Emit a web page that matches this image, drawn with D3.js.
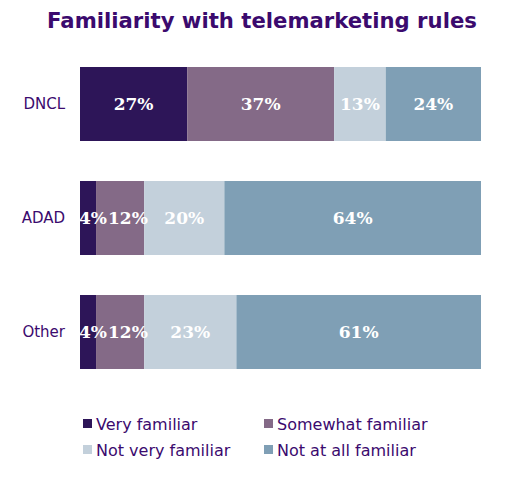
<!DOCTYPE html>
<html><head><meta charset="utf-8">
<script src="https://cdn.jsdelivr.net/npm/d3@7/dist/d3.min.js"></script>
<style>body{margin:0;background:#fff}svg{display:block}</style>
</head><body><div id="chart"></div>
<script>
const categories = ["DNCL", "ADAD", "Other"];
const seriesNames = ["Very familiar", "Somewhat familiar", "Not very familiar", "Not at all familiar"];
const veryFamiliar = [27, 4, 4];
const somewhatFamiliar = [37, 12, 12];
const notVeryFamiliar = [13, 20, 23];
const notAtAllFamiliar = [24, 64, 61];
const colors = ["#2d1558", "#846a87", "#c3d0db", "#7f9fb5"];

const W = 511, H = 480;
const svg = d3.select("#chart").append("svg").attr("width", W).attr("height", H);
const purple = "#3b0a6e";

svg.append("text").attr("x", 262).attr("y", 28).attr("text-anchor", "middle")
  .attr("font-family", "DejaVu Sans").attr("font-weight", "bold").attr("font-size", 21.2)
  .attr("fill", purple).text("Familiarity with telemarketing rules");

const seriesArr = [veryFamiliar, somewhatFamiliar, notVeryFamiliar, notAtAllFamiliar];
const rows = categories.map((c, i) => {
  const o = {cat: c};
  seriesNames.forEach((s, j) => o[s] = seriesArr[j][i]);
  return o;
});
const stack = d3.stack().keys(seriesNames).offset(d3.stackOffsetExpand);
const stacked = stack(rows);

const x = d3.scaleLinear().domain([0, 1]).range([80, 481]);
const y = d3.scaleBand().domain(categories).range([47, 389]).paddingInner(40 / 114).paddingOuter(20 / 114);

const yAxis = svg.append("g").attr("transform", "translate(80,0)")
  .call(d3.axisLeft(y).tickSize(0).tickPadding(15));
yAxis.select(".domain").remove();
yAxis.selectAll("text").attr("font-family", "DejaVu Sans").attr("font-size", 15).attr("fill", purple);

stacked.forEach((layer, j) => {
  svg.append("g").selectAll("rect").data(layer).join("rect")
    .attr("x", d => x(d[0])).attr("width", d => x(d[1]) - x(d[0]))
    .attr("y", d => y(d.data.cat)).attr("height", y.bandwidth())
    .attr("fill", colors[j]);
});

// labels, laid out left to right per row to avoid overlap
const lg = svg.append("g");
categories.forEach((c, i) => {
  let prevRight = x(0) - 2;
  stacked.forEach((layer, j) => {
    const d = layer[i];
    const val = seriesArr[j][i];
    const t = lg.append("text").attr("y", y(c) + y.bandwidth() / 2).attr("dy", "0.36em")
      .attr("text-anchor", "middle").attr("font-family", "DejaVu Serif").attr("font-weight", "bold")
      .attr("font-size", 17).attr("fill", "#fff").text(val + "%");
    const w = t.node().getComputedTextLength();
    let cx = (x(d[0]) + x(d[1])) / 2;
    if (cx - w / 2 < prevRight + 1) cx = prevRight + 1 + w / 2;
    t.attr("x", cx);
    prevRight = cx + w / 2;
  });
});

// legend
const legPos = [[83, 424], [264, 424], [83, 450], [264, 450]];
seriesNames.forEach((s, j) => {
  const [lx, ly] = legPos[j];
  svg.append("rect").attr("x", lx).attr("y", ly - 5).attr("width", 9).attr("height", 9).attr("fill", colors[j]);
  svg.append("text").attr("x", lx + 13).attr("y", ly).attr("dy", "0.36em")
    .attr("font-family", "DejaVu Sans").attr("font-size", 16).attr("fill", purple).text(s);
});
</script></body></html>
